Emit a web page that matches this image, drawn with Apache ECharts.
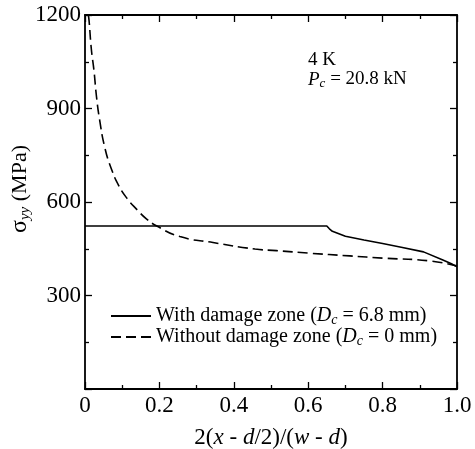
<!DOCTYPE html>
<html><head><meta charset="utf-8">
<script src="https://cdn.jsdelivr.net/npm/echarts@6/dist/echarts.min.js"></script>
<style>html,body{margin:0;padding:0;background:#fff}#c{width:475px;height:449px}</style>
</head><body><div id="c"></div>
<script>
var withX = [0, 0.1, 0.2, 0.3, 0.4, 0.5, 0.6, 0.65, 0.657, 0.665, 0.7, 0.75, 0.8, 0.85, 0.91, 0.962, 0.985, 1.0];
var withY = [523, 523, 523, 523, 523, 523, 523, 523, 514, 506, 490, 478, 467, 455, 440, 414, 402, 392];
var withoutX = [0.009, 0.011, 0.017, 0.024, 0.031, 0.039, 0.053, 0.071, 0.091, 0.114, 0.141, 0.165, 0.193, 0.255, 0.344, 0.457, 0.515, 0.6, 0.712, 0.8, 0.927, 1.0];
var withoutY = [1200, 1181, 1091, 1023, 937, 866, 776, 706, 652, 610, 574, 546, 523, 489, 470, 449, 444, 436, 427, 420, 411, 395];
var xTicks = [0, 0.2, 0.4, 0.6, 0.8, 1.0];
var yTicks = [300, 600, 900, 1200];
var seriesNames = ['With damage zone', 'Without damage zone'];

var FF = 'Liberation Serif';
function pairs(xs, ys){ return xs.map(function(x,i){return [x, ys[i]];}); }
var chart = echarts.init(document.getElementById('c'));
var tickBase = {show:true, inside:true, length:7, lineStyle:{color:'#000', width:1.3}};
var minorBase = {show:true, splitNumber:2, length:4, lineStyle:{color:'#000', width:1.3}};
var lineBase = {show:true, onZero:false, lineStyle:{color:'#000', width:1.8}};
chart.setOption({
  animation:false,
  grid:{left:85, right:18, top:15, bottom:60},
  textStyle:{fontFamily:FF},
  xAxis:[
    {type:'value', min:0, max:1, interval:0.2, axisLine:lineBase, axisTick:tickBase, minorTick:minorBase, splitLine:{show:false},
     axisLabel:{fontFamily:FF, fontSize:23, color:'#000', margin:5,
       formatter:function(v){ var t = xTicks.filter(function(k){return Math.abs(k-v)<1e-9;}); if(!t.length) return ''; return t[0]===0?'0':t[0].toFixed(1);} }},
    {type:'value', position:'top', min:0, max:1, interval:0.2, axisLine:lineBase, axisTick:tickBase, minorTick:minorBase, splitLine:{show:false}, axisLabel:{show:false}}
  ],
  yAxis:[
    {type:'value', min:0, max:1200, interval:300, axisLine:lineBase, axisTick:tickBase, minorTick:minorBase, splitLine:{show:false},
     axisLabel:{fontFamily:FF, fontSize:23, color:'#000', margin:4,
       formatter:function(v){ return yTicks.indexOf(v)>=0 ? String(v) : ''; }}},
    {type:'value', position:'right', min:0, max:1200, interval:300, axisLine:lineBase, axisTick:tickBase, minorTick:minorBase, splitLine:{show:false}, axisLabel:{show:false}}
  ],
  legend:{
    orient:'vertical', left:105, top:301, itemWidth:40, itemHeight:12, itemGap:0,
    data:seriesNames,
    itemStyle:{opacity:0},
    textStyle:{fontFamily:FF, fontSize:20, color:'#000',
      rich:{t:{fontFamily:FF, fontSize:20, color:'#000'}, i:{fontFamily:FF, fontSize:20, fontStyle:'italic', color:'#000'}, s:{fontFamily:FF, fontSize:14, fontStyle:'italic', color:'#000', padding:[8,0,0,0]}}},
    formatter:function(n){
      if(n===seriesNames[0]) return '{t|With damage zone (}{i|D}{s|c}{t| = 6.8 mm)}';
      return '{t|Without damage zone (}{i|D}{s|c}{t| = 0 mm)}';
    }
  },
  graphic:[
    {type:'text', x:271, y:438, style:{fontFamily:FF, fontSize:23, fill:'#000', align:'center', verticalAlign:'middle',
      text:'2({i|x} - {i|d}/2)/({i|w} - {i|d})', rich:{i:{fontFamily:FF, fontSize:23, fontStyle:'italic', fill:'#000'}}}},
    {type:'text', x:20, y:189, rotation:Math.PI/2, style:{fontFamily:FF, fontSize:22, fill:'#000', align:'center', verticalAlign:'middle',
      text:'{i|σ}{s|yy} (MPa)', rich:{i:{fontFamily:FF, fontSize:24, fill:'#000'}, s:{fontFamily:FF, fontSize:15, fontStyle:'italic', fill:'#000', padding:[10,0,0,0]}}}},
    {type:'text', x:308, y:51, style:{fontFamily:FF, fontSize:19, fill:'#000', text:'4 K'}},
    {type:'text', x:308, y:69, style:{fontFamily:FF, fontSize:19, fill:'#000',
      text:'{i|P}{s|c}{t| = 20.8 kN}', rich:{t:{fontFamily:FF, fontSize:19, fill:'#000'}, i:{fontFamily:FF, fontSize:19, fontStyle:'italic', fill:'#000'}, s:{fontFamily:FF, fontSize:13, fontStyle:'italic', fill:'#000', padding:[8,0,0,0]}}}}
  ],
  series:[
    {name:seriesNames[0], type:'line', data:pairs(withX, withY), symbol:'none', lineStyle:{color:'#000', width:1.6, type:'solid'}, itemStyle:{color:'#000'}},
    {name:seriesNames[1], type:'line', data:pairs(withoutX, withoutY), symbol:'none', smooth:0.5, lineStyle:{color:'#000', width:1.6, type:[10,5]}, itemStyle:{color:'#000'}}
  ]
});
</script></body></html>
